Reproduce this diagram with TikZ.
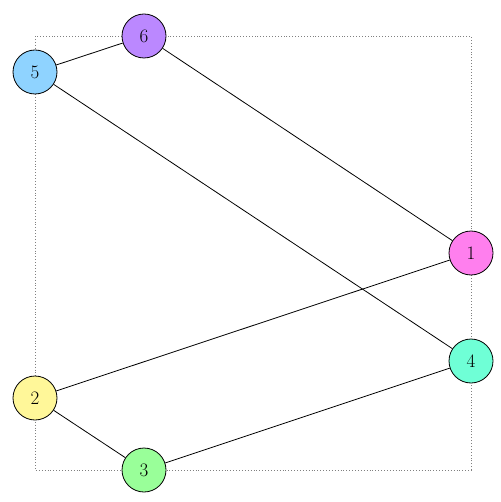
\documentclass[tikz,border=0pt]{standalone}
\definecolor{c1}{HTML}{FF7FEE}
\definecolor{c2}{HTML}{FFF799}
\definecolor{c3}{HTML}{99FF99}
\definecolor{c4}{HTML}{6FFFD6}
\definecolor{c5}{HTML}{8FD3FF}
\definecolor{c6}{HTML}{BB88FF}
\begin{document}
\begin{tikzpicture}[x=1pt,y=-1pt,
  vtx/.style={circle,draw,line width=0.8pt,minimum size=44pt,inner sep=0pt,font=\fontsize{19}{22}\selectfont},
  edge/.style={line width=0.8pt}]
\useasboundingbox (0,0) rectangle (500,502);
\draw[gray,dotted,line width=0.9pt] (35,36) rectangle (471,470);
\node[vtx,fill=c5] (n5) at (35,72) {5};
\node[vtx,fill=c6] (n6) at (144,36) {6};
\node[vtx,fill=c1] (n1) at (471,253) {1};
\node[vtx,fill=c4] (n4) at (471,361) {4};
\node[vtx,fill=c2] (n2) at (35,398) {2};
\node[vtx,fill=c3] (n3) at (144,470) {3};
\draw[edge] (n5) -- (n6);
\draw[edge] (n6) -- (n1);
\draw[edge] (n5) -- (n4);
\draw[edge] (n1) -- (n2);
\draw[edge] (n2) -- (n3);
\draw[edge] (n3) -- (n4);
\end{tikzpicture}
\end{document}
